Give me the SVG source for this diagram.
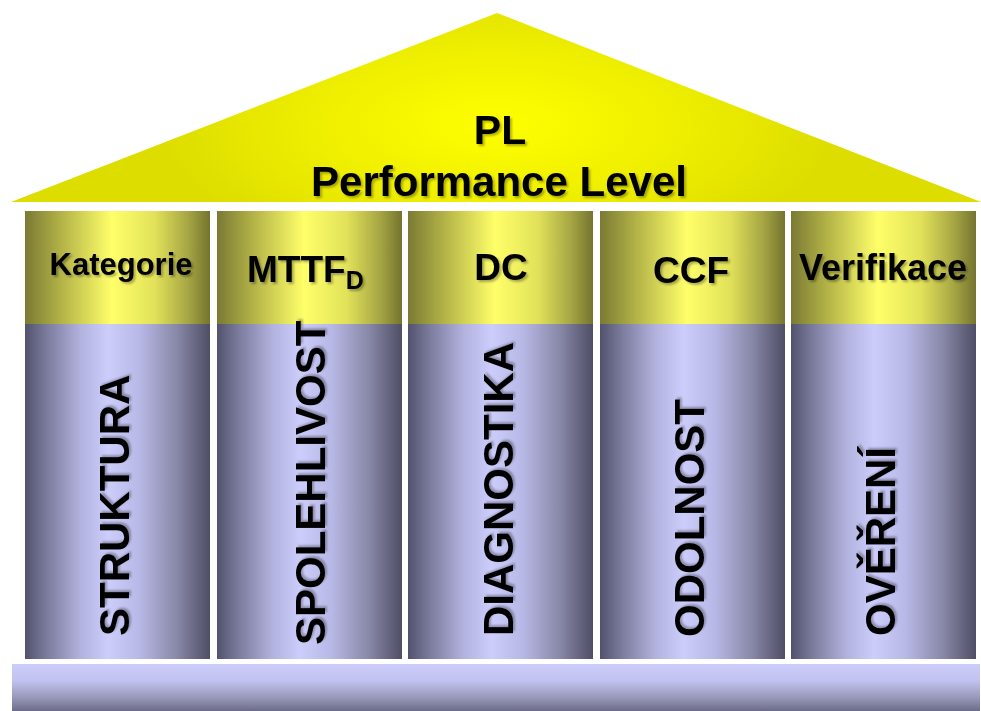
<svg xmlns="http://www.w3.org/2000/svg" width="981" height="711" viewBox="0 0 981 711">
  <defs>
    <radialGradient id="roofGrad" gradientUnits="userSpaceOnUse" cx="497" cy="125" r="260" gradientTransform="translate(497 125) scale(1.3 0.55) translate(-497 -125)">
      <stop offset="0" stop-color="#ffff00"/>
      <stop offset="0.55" stop-color="#eeee00"/>
      <stop offset="1" stop-color="#dddd00"/>
    </radialGradient>
    <linearGradient id="capGrad" x1="0" y1="0" x2="1" y2="0">
      <stop offset="0" stop-color="#7a7a34"/>
      <stop offset="0.2" stop-color="#b4b448"/>
      <stop offset="0.47" stop-color="#ffff6a"/>
      <stop offset="0.7" stop-color="#e2e25a"/>
      <stop offset="0.88" stop-color="#a6a644"/>
      <stop offset="1" stop-color="#74742f"/>
    </linearGradient>
    <linearGradient id="shaftGrad" x1="0" y1="0" x2="1" y2="0">
      <stop offset="0" stop-color="#52526e"/>
      <stop offset="0.12" stop-color="#7c7c9e"/>
      <stop offset="0.3" stop-color="#b2b2de"/>
      <stop offset="0.45" stop-color="#cdcdfc"/>
      <stop offset="0.62" stop-color="#b8b8e6"/>
      <stop offset="0.82" stop-color="#8888a8"/>
      <stop offset="1" stop-color="#4e4e66"/>
    </linearGradient>
    <linearGradient id="baseGrad" x1="0" y1="0" x2="0" y2="1">
      <stop offset="0" stop-color="#cdcdfc"/>
      <stop offset="0.35" stop-color="#c2c2f0"/>
      <stop offset="0.7" stop-color="#9a9abc"/>
      <stop offset="1" stop-color="#6c6c8a"/>
    </linearGradient>
    <filter id="shadow" x="-10%" y="-10%" width="120%" height="130%">
      <feDropShadow dx="2" dy="2" stdDeviation="0.8" flood-color="#000000" flood-opacity="0.3"/>
    </filter>
  </defs>
  <style>
    text { font-family: "Liberation Sans", Arial, sans-serif; font-weight: bold; fill: #000; filter: url(#shadow); }
    .cap { fill: url(#capGrad); }
    .shaft { fill: url(#shaftGrad); }
    .vt { font-size: 42px; }
  </style>

  <rect width="981" height="711" fill="#ffffff"/>

  <g id="roof">
    <polygon points="11,202 497,13 981,202" fill="url(#roofGrad)"/>
    <text x="500" y="144" font-size="41" text-anchor="middle">PL</text>
    <text x="499" y="196" font-size="42" text-anchor="middle">Performance Level</text>
  </g>

  <g id="pillar-struktura">
    <rect class="cap" x="25" y="211" width="185" height="113"/>
    <rect class="shaft" x="25" y="324" width="185" height="335"/>
    <text x="121" y="275" font-size="31" text-anchor="middle">Kategorie</text>
    <text class="vt" transform="translate(129 636) rotate(-90)">STRUKTURA</text>
  </g>

  <g id="pillar-spolehlivost">
    <rect class="cap" x="217" y="211" width="185" height="113"/>
    <rect class="shaft" x="217" y="324" width="185" height="335"/>
    <text x="247" y="282" font-size="37">MTTF<tspan font-size="25" dy="7">D</tspan></text>
    <text class="vt" transform="translate(325 645) rotate(-90)" font-size="40">SPOLEHLIVOST</text>
  </g>

  <g id="pillar-diagnostika">
    <rect class="cap" x="408" y="211" width="185" height="113"/>
    <rect class="shaft" x="408" y="324" width="185" height="335"/>
    <text x="501" y="280" font-size="37" text-anchor="middle">DC</text>
    <text class="vt" transform="translate(513 636) rotate(-90)">DIAGNOSTIKA</text>
  </g>

  <g id="pillar-odolnost">
    <rect class="cap" x="600" y="211" width="185" height="113"/>
    <rect class="shaft" x="600" y="324" width="185" height="335"/>
    <text x="691" y="283" font-size="37" text-anchor="middle">CCF</text>
    <text class="vt" transform="translate(704 637) rotate(-90)">ODOLNOST</text>
  </g>

  <g id="pillar-overeni">
    <rect class="cap" x="791" y="211" width="185" height="113"/>
    <rect class="shaft" x="791" y="324" width="185" height="335"/>
    <text x="883" y="280" font-size="36" text-anchor="middle">Verifikace</text>
    <text class="vt" transform="translate(895 636) rotate(-90)">OVĚŘENÍ</text>
  </g>

  <g id="base">
    <rect x="12" y="664" width="968" height="47" fill="url(#baseGrad)"/>
  </g>

  <g id="connectors"></g>
</svg>
